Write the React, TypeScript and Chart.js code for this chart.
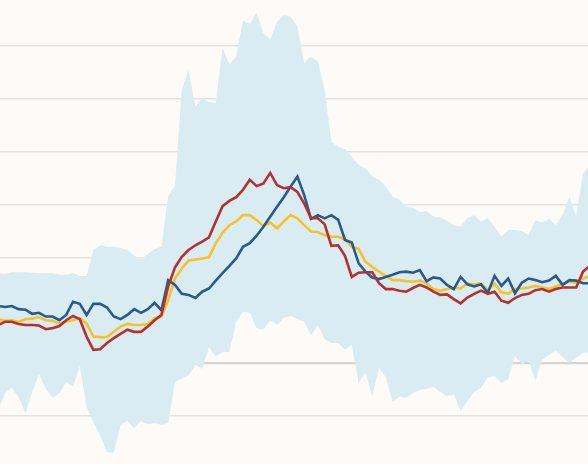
import { useEffect, useRef } from "react";
import { Chart, registerables } from "chart.js";

Chart.register(...registerables);

const blue = [1.08,1.06,1.08,1.02,1.01,0.93,0.95,0.88,0.88,0.81,
0.91,1.16,1.12,0.91,1.12,1.12,1.05,0.88,0.83,0.91,
1.02,0.95,1.02,1.14,1.00,1.57,1.48,1.31,1.29,1.23,
1.35,1.41,1.56,1.70,1.84,1.98,2.20,2.27,2.41,2.58,
2.77,2.96,3.14,3.34,3.53,3.18,2.73,2.80,2.74,2.80,
2.71,2.33,2.28,1.89,1.73,1.62,1.59,1.63,1.67,1.72,
1.73,1.71,1.76,1.55,1.62,1.60,1.48,1.40,1.63,1.49,
1.45,1.49,1.33,1.65,1.46,1.60,1.32,1.52,1.60,1.57,
1.53,1.56,1.65,1.48,1.57,1.56,1.51,1.51];

const red = [0.72,0.78,0.78,0.74,0.72,0.72,0.71,0.64,0.66,0.70,
0.81,0.89,0.83,0.50,0.25,0.26,0.38,0.47,0.55,0.63,
0.59,0.59,0.69,0.81,0.91,1.45,1.81,2.01,2.14,2.23,
2.30,2.38,2.68,2.97,3.07,3.14,3.28,3.47,3.35,3.40,
3.60,3.37,3.31,3.33,3.24,3.02,2.74,2.74,2.63,2.22,
2.23,2.03,1.63,1.71,1.72,1.72,1.51,1.40,1.40,1.37,
1.35,1.42,1.48,1.43,1.35,1.29,1.30,1.21,1.13,1.24,
1.31,1.37,1.31,1.35,1.18,1.14,1.23,1.29,1.31,1.38,
1.40,1.35,1.40,1.43,1.43,1.43,1.73,1.84];

const yellow = [0.83,0.80,0.81,0.78,0.83,0.84,0.87,0.81,0.80,0.75,
0.78,0.81,0.85,0.75,0.50,0.49,0.49,0.59,0.69,0.74,
0.72,0.72,0.74,0.85,0.88,1.19,1.60,1.79,1.94,1.96,
1.98,2.00,2.27,2.47,2.61,2.68,2.80,2.80,2.71,2.59,
2.66,2.55,2.68,2.80,2.74,2.61,2.49,2.48,2.42,2.39,
2.39,2.34,2.20,2.16,1.92,1.82,1.73,1.65,1.57,1.57,
1.55,1.54,1.56,1.51,1.40,1.37,1.40,1.43,1.41,1.50,
1.49,1.51,1.38,1.50,1.34,1.31,1.40,1.41,1.43,1.46,
1.43,1.40,1.45,1.50,1.54,1.52,1.60,1.64];

const bandUpper = [1.70,1.69,1.72,1.72,1.72,1.71,1.70,1.70,1.70,1.67,
1.67,1.71,1.65,1.65,2.14,2.23,2.20,2.20,2.18,2.14,
2.03,1.97,2.06,2.16,2.20,3.16,3.35,5.17,5.55,4.85,
5.02,4.94,4.92,5.97,5.66,5.80,6.48,6.42,6.63,6.25,
6.12,6.46,6.59,6.56,6.37,5.68,5.80,5.71,5.17,4.19,
4.10,4.05,3.91,3.75,3.69,3.53,3.47,3.34,3.15,3.09,
2.96,2.94,2.85,2.88,2.77,2.76,2.70,2.61,2.58,2.75,
2.80,2.67,2.75,2.58,2.39,2.52,2.52,2.50,2.42,2.71,
2.66,2.73,2.61,2.80,3.15,2.77,3.60,3.73];

const bandLower = [-0.89,-0.57,-0.47,-0.64,-0.95,-0.55,-0.21,-0.49,-0.66,-0.57,
-0.36,-0.45,-0.06,-0.83,-1.12,-1.38,-1.69,-1.69,-1.17,-1.10,
-1.23,-1.10,-1.16,-1.14,-1.17,-1.14,-0.36,-0.30,-0.23,-0.04,
-0.11,0.30,0.13,0.21,0.21,0.78,0.97,0.95,0.66,0.63,
0.81,0.72,0.85,0.89,0.83,0.78,0.53,0.72,0.45,0.38,
0.38,0.25,0.34,-0.38,-0.17,-0.64,-0.09,-0.27,-0.74,-0.64,
-0.66,-0.57,-0.51,-0.49,-0.45,-0.55,-0.63,-0.59,-0.91,-0.72,
-0.55,-0.47,-0.27,-0.25,-0.38,-0.30,0.13,-0.02,0.04,-0.34,
0.06,0.15,0.23,0.11,0.00,0.11,0.19,0.21];

const gridValues = [-1, 0, 1, 2, 3, 4, 5, 6];

const X_MIN = 0.265;
const X_MAX = 86.735;
const Y_MIN = -1.913;
const Y_MAX = 6.875;

export default function App() {
  const ref = useRef<HTMLCanvasElement>(null);

  useEffect(() => {
    if (!ref.current) return;
    const toPts = (arr: number[]) => arr.map((y, i) => ({ x: i, y }));
    const line = (arr: number[], color: string) => ({
      data: toPts(arr),
      borderColor: color,
      borderWidth: 2.6,
      pointRadius: 0,
      fill: false,
      tension: 0,
    });
    const chart = new Chart(ref.current, {
      type: "line",
      data: {
        datasets: [
          line(red, "#b3312f"),
          line(blue, "#295a8c"),
          line(yellow, "#f7c12e"),
          {
            data: toPts(bandUpper),
            borderColor: "transparent",
            borderWidth: 0,
            pointRadius: 0,
            tension: 0,
            fill: "+1",
            backgroundColor: "#d9ecf2",
          },
          {
            data: toPts(bandLower),
            borderColor: "transparent",
            borderWidth: 0,
            pointRadius: 0,
            tension: 0,
            fill: false,
          },
        ],
      } as any,
      options: {
        animation: false,
        responsive: true,
        maintainAspectRatio: false,
        events: [],
        layout: { padding: 0 },
        plugins: { legend: { display: false }, tooltip: { enabled: false } },
        scales: {
          x: { type: "linear", min: X_MIN, max: X_MAX, display: false },
          y: {
            type: "linear",
            min: Y_MIN,
            max: Y_MAX,
            z: 1,
            afterBuildTicks: (axis: any) => {
              axis.ticks = gridValues.map((v) => ({ value: v }));
            },
            afterFit: (scale: any) => {
              scale.width = 0;
            },
            ticks: { display: false },
            border: { display: false },
            grid: {
              drawTicks: false,
              tickLength: 0,
              color: (c: any) => (c.tick && c.tick.value === 0 ? "rgba(0,0,0,0.15)" : "rgba(0,0,0,0.095)"),
              lineWidth: (c: any) => (c.tick && c.tick.value === 0 ? 2.2 : 1.6),
            },
          },
        },
      } as any,
    });
    return () => chart.destroy();
  }, []);

  return (
    <div
      style={{
        position: "fixed",
        left: 0,
        top: 0,
        width: 588,
        height: 464,
        background: "#fcfbf7",
      }}
    >
      <canvas ref={ref} />
    </div>
  );
}
